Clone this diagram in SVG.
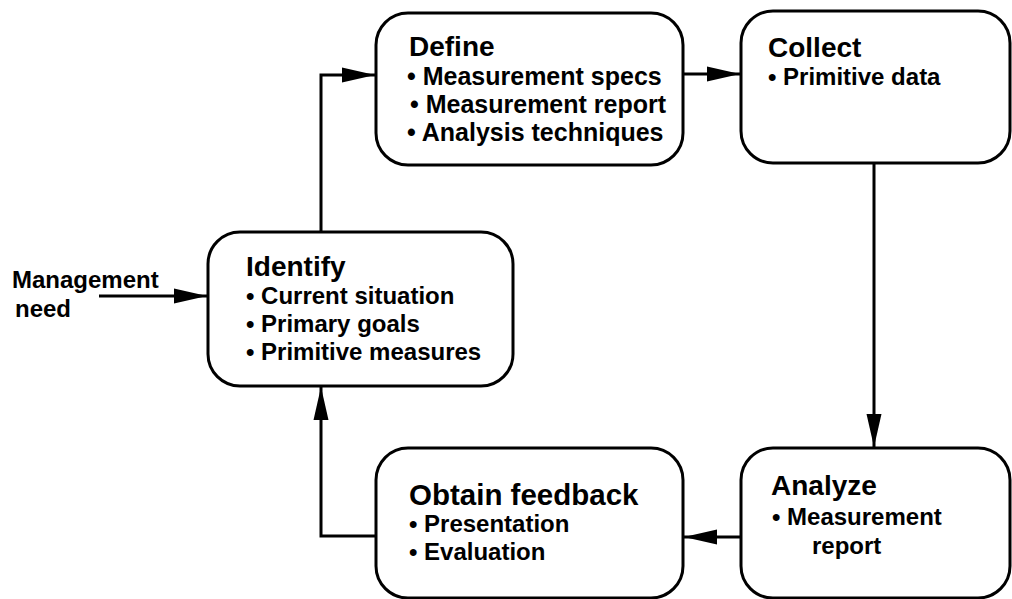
<svg xmlns="http://www.w3.org/2000/svg" width="1012" height="599" viewBox="0 0 1012 599">
  <style>
    .box { fill: #ffffff; stroke: #000000; stroke-width: 3; }
    .wire { fill: none; stroke: #000000; stroke-width: 3; }
    text { font-family: "Liberation Sans", Arial, Helvetica, sans-serif; font-weight: bold; fill: #000000; }
    .title { font-size: 28px; }
    .item { font-size: 24px; }
    .wide { font-size: 25px; }
  </style>
  <defs>
    <marker id="arrow" markerUnits="userSpaceOnUse" markerWidth="34" markerHeight="16" refX="33" refY="8" orient="auto">
      <path d="M0,0.5 L33,8 L0,15.5 Z" fill="#000000"/>
    </marker>
  </defs>

  <!-- connectors -->
  <g id="connectors">
    <path class="wire" d="M99,296 L207,296" marker-end="url(#arrow)"/>
    <path class="wire" d="M321,232 L321,75 L375,75" marker-end="url(#arrow)"/>
    <path class="wire" d="M683,74 L740,74" marker-end="url(#arrow)"/>
    <path class="wire" d="M874,163 L874,447" marker-end="url(#arrow)"/>
    <path class="wire" d="M741,537 L684,537" marker-end="url(#arrow)"/>
    <path class="wire" d="M376,536 L321,536 L321,387" marker-end="url(#arrow)"/>
  </g>

  <!-- input label -->
  <g id="input">
    <text class="item" x="12" y="288">Management</text>
    <text class="item" x="15" y="317">need</text>
  </g>

  <g id="identify">
    <rect class="box" x="208" y="232" width="305" height="154" rx="32" ry="32"/>
    <text class="title" x="246" y="276">Identify</text>
    <text class="item" x="246" y="304">• Current situation</text>
    <text class="item" x="246" y="332">• Primary goals</text>
    <text class="item" x="246" y="360">• Primitive measures</text>
  </g>

  <g id="define">
    <rect class="box" x="376" y="13" width="307" height="152" rx="32" ry="32"/>
    <text class="title" x="409" y="56">Define</text>
    <text class="wide" x="407" y="85">• Measurement specs</text>
    <text class="wide" x="410" y="113">• Measurement report</text>
    <text class="wide" x="407" y="141">• Analysis techniques</text>
  </g>

  <g id="collect">
    <rect class="box" x="741" y="11" width="269" height="152" rx="32" ry="32"/>
    <text class="title" x="768" y="57">Collect</text>
    <text class="item" x="768" y="85">• Primitive data</text>
  </g>

  <g id="analyze">
    <rect class="box" x="741" y="448" width="269" height="150" rx="32" ry="32"/>
    <text class="title" x="771" y="495">Analyze</text>
    <text class="item" x="772" y="525">• Measurement</text>
    <text class="item" x="812" y="554">report</text>
  </g>

  <g id="feedback">
    <rect class="box" x="376" y="448" width="307" height="150" rx="32" ry="32"/>
    <text class="title" x="409" y="505" style="font-size:29.5px">Obtain feedback</text>
    <text class="item" x="409" y="532">• Presentation</text>
    <text class="item" x="409" y="560">• Evaluation</text>
  </g>
</svg>
